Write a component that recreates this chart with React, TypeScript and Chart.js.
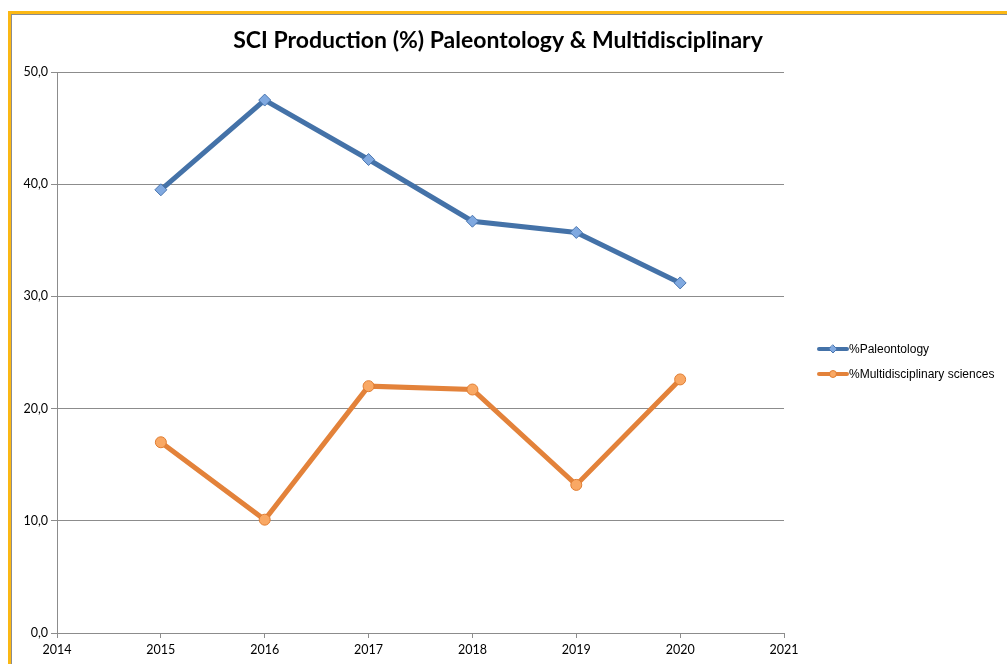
import React, { useEffect, useRef } from "react";
import { Chart, registerables } from "chart.js";

Chart.register(...registerables);

const years = [2015, 2016, 2017, 2018, 2019, 2020];
const paleontology = [39.5, 47.5, 42.2, 36.7, 35.7, 31.2];
const multidisciplinary = [17.0, 10.1, 22.0, 21.7, 13.2, 22.6];
const seriesNames = ["%Paleontology", "%Multidisciplinary sciences"];
const chartTitle = "SCI Production (%) Paleontology & Multidisciplinary";

const BLUE = "#4472a8";
const ORANGE = "#e3823a";

export default function App() {
  const ref = useRef<HTMLCanvasElement | null>(null);

  useEffect(() => {
    if (!ref.current) return;
    const overlay = {
      id: "overlay",
      afterDraw(chart: any) {
        const ctx = chart.ctx;
        ctx.save();
        // title
        ctx.fillStyle = "#000";
        ctx.font = "bold 23px Lato";
        ctx.textAlign = "center";
        ctx.textBaseline = "middle";
        ctx.fillText(chartTitle, 498, 41);
        // legend
        ctx.font = "12px 'Liberation Sans'";
        ctx.textAlign = "left";
        const ys = [349, 374];
        chart.data.datasets.forEach((ds: any, i: number) => {
          const y = ys[i];
          ctx.strokeStyle = ds.borderColor;
          ctx.lineWidth = 4;
          ctx.lineCap = "round";
          ctx.beginPath();
          ctx.moveTo(819, y);
          ctx.lineTo(847, y);
          ctx.stroke();
          ctx.fillStyle = ds.pointBackgroundColor;
          ctx.strokeStyle = ds.pointBorderColor;
          ctx.lineWidth = 1;
          ctx.beginPath();
          if (i === 0) {
            ctx.moveTo(833, y - 4);
            ctx.lineTo(837, y);
            ctx.lineTo(833, y + 4);
            ctx.lineTo(829, y);
            ctx.closePath();
          } else {
            ctx.arc(833, y, 3.5, 0, Math.PI * 2);
          }
          ctx.fill();
          ctx.stroke();
          ctx.fillStyle = "#000";
          ctx.fillText(ds.label, 849, y + 1);
        });
        ctx.restore();
      },
    };

    const chart = new Chart(ref.current, {
      type: "line",
      data: {
        datasets: [
          {
            label: seriesNames[0],
            data: years.map((x, i) => ({ x, y: paleontology[i] })),
            borderColor: BLUE,
            borderWidth: 5,
            pointStyle: "rectRot",
            pointRadius: 6,
            pointBackgroundColor: "#80a9e0",
            pointBorderColor: "#4a76b0",
            pointBorderWidth: 1,
          },
          {
            label: seriesNames[1],
            data: years.map((x, i) => ({ x, y: multidisciplinary[i] })),
            borderColor: ORANGE,
            borderWidth: 5,
            pointStyle: "circle",
            pointRadius: 5.5,
            pointBackgroundColor: "#f9a864",
            pointBorderColor: "#e07d32",
            pointBorderWidth: 1,
          },
        ],
      },
      options: {
        animation: false,
        responsive: false,
        layout: { padding: { left: 0, top: 72, right: 223, bottom: 0 } },
        plugins: { legend: { display: false }, title: { display: false }, tooltip: { enabled: false } },
        scales: {
          x: {
            type: "linear",
            min: 2014,
            max: 2021,
            ticks: {
              stepSize: 1,
              color: "#000",
              font: { family: "Lato", size: 12.5 },
              padding: 4,
              callback: (v: any) => String(v),
              maxRotation: 0,
            },
            grid: { drawOnChartArea: false, drawTicks: true, tickLength: 5, color: "#8c8c8c" },
            border: { color: "#8c8c8c", width: 1 },
            afterFit: (s: any) => { s.height = 31; },
          },
          y: {
            min: 0,
            max: 50,
            ticks: {
              stepSize: 10,
              color: "#000",
              font: { family: "Lato", size: 12.5 },
              padding: 3,
              callback: (v: any) => Number(v).toFixed(1).replace(".", ","),
            },
            grid: { color: "#8c8c8c", tickLength: 6, lineWidth: 1 },
            border: { color: "#8c8c8c", width: 1 },
            afterFit: (s: any) => { s.width = 57; },
          },
        },
      },
      plugins: [overlay],
    });
    return () => chart.destroy();
  }, []);

  return (
    <>
      <canvas
        ref={ref}
        width={1007}
        height={664}
        style={{ position: "fixed", left: 0, top: 0, width: 1007, height: 664, background: "#fff" }}
      />
      <div
        style={{
          position: "fixed",
          left: 8,
          top: 11,
          right: 0,
          bottom: 0,
          borderTop: "3px solid #fbb814",
          borderLeft: "3px solid #fbb814",
          pointerEvents: "none",
        }}
      >
        <div style={{ position: "absolute", left: 0, top: 0, right: 0, bottom: 0, borderTop: "1px solid #8c8c8c", borderLeft: "1px solid #8c8c8c" }} />
      </div>
    </>
  );
}
